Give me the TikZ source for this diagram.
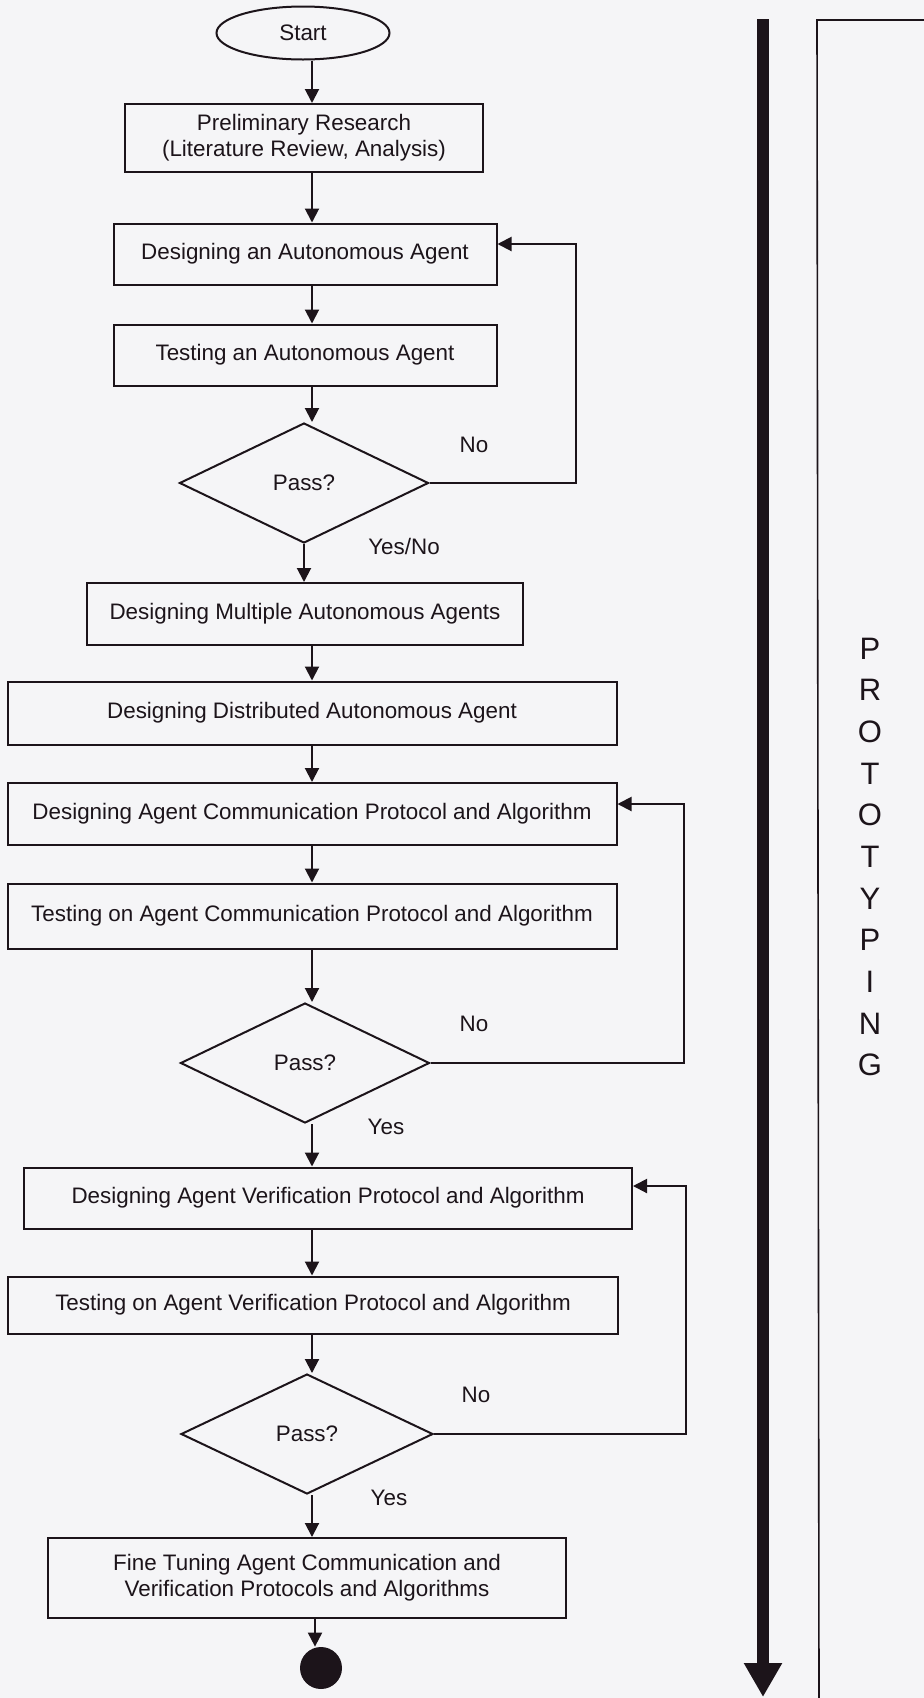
\documentclass[tikz,border=0pt]{standalone}
\usepackage{fontspec}
\setmainfont{Liberation Sans}
\usetikzlibrary{shapes.geometric,arrows.meta}
\definecolor{ink}{RGB}{28,20,26}
\definecolor{paper}{RGB}{245,245,247}
\begin{document}
\begin{tikzpicture}[x=0.5pt,y=-0.5pt,
  every node/.style={font=\fontsize{11.2}{13}\selectfont, text=ink},
  box/.style={draw=ink, line width=1pt, rectangle, inner sep=0pt, align=center},
  decision/.style={draw=ink, line width=1pt, diamond, inner sep=0pt, minimum width=124.5pt, minimum height=60pt},
  arr/.style={draw=ink, line width=1pt, -{Triangle[length=7pt,width=7pt]}},
  lbl/.style={inner sep=0pt}
]
\fill[paper] (0,0) rectangle (924,1698);
\useasboundingbox (0,0) rectangle (924,1698);

% nodes
\node[draw=ink, line width=1pt, ellipse, minimum width=86.5pt, minimum height=26.5pt, inner sep=0pt] (start) at (303,33) {Start};
\node[box, minimum width=179pt, minimum height=34pt] (prelim) at (304,138) {Preliminary Research\\(Literature Review, Analysis)};
\node[box, minimum width=191.5pt, minimum height=30.5pt] (dA) at (305,254) {Designing an Autonomous Agent};
\node[box, minimum width=191.5pt, minimum height=30.5pt] (tA) at (305,355) {Testing an Autonomous Agent};
\node[decision] (d1) at (304,483) {Pass?};
\node[box, minimum width=218pt, minimum height=31pt] (multi) at (305,614) {Designing Multiple Autonomous Agents};
\node[box, minimum width=304.5pt, minimum height=31.5pt] (dist) at (312,713) {Designing Distributed Autonomous Agent};
\node[box, minimum width=304.5pt, minimum height=31pt] (dComm) at (312,814) {Designing Agent Communication Protocol and Algorithm};
\node[box, minimum width=304.5pt, minimum height=32.5pt] (tComm) at (312,916) {Testing on Agent Communication Protocol and Algorithm};
\node[decision] (d2) at (305,1063) {Pass?};
\node[box, minimum width=304pt, minimum height=30.5pt] (dVer) at (328,1198) {Designing Agent Verification Protocol and Algorithm};
\node[box, minimum width=305pt, minimum height=28.5pt] (tVer) at (313,1305) {Testing on Agent Verification Protocol and Algorithm};
\node[decision, minimum width=126pt] (d3) at (307,1434) {Pass?};
\node[box, minimum width=259pt, minimum height=40pt] (fine) at (307,1578) {Fine Tuning Agent Communication and\\Verification Protocols and Algorithms};
\node[circle, fill=ink, minimum size=21pt, inner sep=0pt] (endc) at (321,1668) {};

% labels
\node[lbl] (no1) at (474,445) {No};
\node[lbl] (yn1) at (404,546) {Yes/No};
\node[lbl] (no2) at (474,1024) {No};
\node[lbl] (yes2) at (386,1127) {Yes};
\node[lbl] (no3) at (476,1395) {No};
\node[lbl] (yes3) at (389,1498) {Yes};

% main flow
\coordinate (ax) at (312,0);
\draw[arr] (start.south -| ax) -- (ax |- prelim.north);
\draw[arr] (prelim.south -| ax) -- (ax |- dA.north);
\draw[arr] (dA.south -| ax) -- (ax |- tA.north);
\draw[arr] (tA.south -| ax) -- (ax |- d1.north);
\draw[arr] (d1.south) -- (d1.south |- multi.north);
\draw[arr] (multi.south -| ax) -- (ax |- dist.north);
\draw[arr] (dist.south -| ax) -- (ax |- dComm.north);
\draw[arr] (dComm.south -| ax) -- (ax |- tComm.north);
\draw[arr] (tComm.south -| ax) -- (ax |- d2.north);
\draw[arr] (d2.south -| ax) -- (ax |- dVer.north);
\draw[arr] (dVer.south -| ax) -- (ax |- tVer.north);
\draw[arr] (tVer.south -| ax) -- (ax |- d3.north);
\draw[arr] (d3.south -| ax) -- (ax |- fine.north);
\coordinate (ax2) at (315,0);
\draw[arr] (fine.south -| ax2) -- (ax2 |- endc.north);

% feedback loops
\coordinate (f1) at (576,244);
\draw[arr] (d1.east) -| (f1) -- (f1 -| dA.east);
\coordinate (f2) at (684,804);
\draw[arr] (d2.east) -| (f2) -- (f2 -| dComm.east);
\coordinate (f3) at (686,1186);
\draw[arr] (d3.east) -| (f3) -- (f3 -| dVer.east);

% prototyping band
\coordinate (pTop) at (763,19);
\coordinate (pBot) at (763,1697);
\draw[ink, line width=6pt, -{Triangle[length=17pt,width=18pt]}] (pTop) -- (pBot);
\coordinate (bTR) at (924,20);
\coordinate (bTL) at (817,20);
\coordinate (bBL) at (819,1698);
\draw[ink, line width=0.8pt] (bTR) -- (bTL) -- (bBL);
\node[font=\fontsize{15.5}{20.84}\selectfont, align=center, inner sep=0pt] (proto) at (870,857) {P\\R\\O\\T\\O\\T\\Y\\P\\I\\N\\G};
\end{tikzpicture}
\end{document}
